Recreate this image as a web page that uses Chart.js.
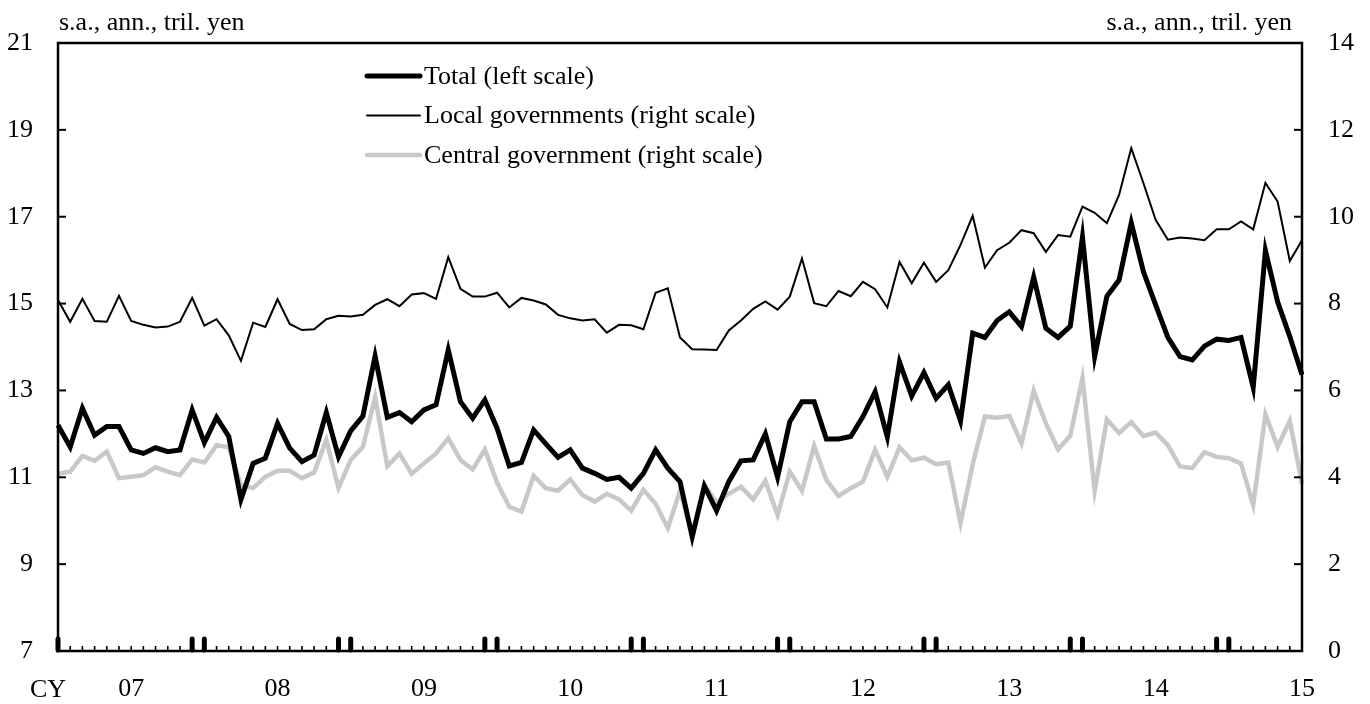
<!DOCTYPE html>
<html lang="en">
<head>
<meta charset="UTF-8">
<title>Public investment</title>
<script src="https://cdn.jsdelivr.net/npm/chart.js"></script>
<style>
  html, body { margin: 0; padding: 0; background: #ffffff; }
  #wrap { width: 1370px; height: 704px; }
</style>
</head>
<body>
<div id="wrap"><canvas id="chart" width="1370" height="704"></canvas></div>
<script>
// monthly, Jan 2007 .. Jul 2015
const startYear = 2007;
const monthCount = 103;
const yearLabels = ['07', '08', '09', '10', '11', '12', '13', '14', '15'];
const seriesNames = ['Total (left scale)', 'Local governments (right scale)', 'Central government (right scale)'];

// s.a., ann., tril. yen
const total = [
  12.20, 11.70, 12.59, 11.97, 12.17, 12.17, 11.63, 11.55, 11.68, 11.59, 11.63, 12.55,
  11.80, 12.38, 11.94, 10.49, 11.32, 11.44, 12.24, 11.67, 11.36, 11.51, 12.49, 11.47,
  12.07, 12.41, 13.79, 12.38, 12.49, 12.28, 12.55, 12.67, 13.93, 12.74, 12.36, 12.78,
  12.13, 11.26, 11.34, 12.09, 11.77, 11.46, 11.63, 11.21, 11.09, 10.95, 11.00, 10.75,
  11.09, 11.63, 11.21, 10.90, 9.63, 10.80, 10.23, 10.90, 11.38, 11.40, 12.00, 11.00,
  12.28, 12.74, 12.74, 11.88, 11.88, 11.94, 12.40, 12.97, 11.93, 13.65, 12.87, 13.41,
  12.82, 13.13, 12.30, 14.32, 14.22, 14.61, 14.81, 14.47, 15.61, 14.43, 14.22, 14.48,
  16.53, 13.78, 15.17, 15.54, 16.86, 15.73, 14.97, 14.22, 13.78, 13.70, 14.02, 14.18,
  14.15, 14.22, 13.07, 16.22, 15.04, 14.24, 13.36
];
const localGov = [
  8.08, 7.58, 8.11, 7.60, 7.58, 8.18, 7.60, 7.51, 7.45, 7.47, 7.58, 8.13,
  7.49, 7.64, 7.27, 6.68, 7.56, 7.46, 8.10, 7.53, 7.39, 7.41, 7.64, 7.72,
  7.70, 7.74, 7.97, 8.10, 7.94, 8.21, 8.24, 8.11, 9.07, 8.34, 8.16, 8.16,
  8.25, 7.91, 8.13, 8.07, 7.98, 7.74, 7.66, 7.61, 7.64, 7.33, 7.51, 7.50,
  7.41, 8.25, 8.35, 7.22, 6.95, 6.94, 6.93, 7.38, 7.61, 7.88, 8.05, 7.86,
  8.16, 9.04, 8.01, 7.94, 8.29, 8.17, 8.50, 8.33, 7.91, 8.96, 8.47, 8.94,
  8.50, 8.77, 9.35, 10.02, 8.83, 9.23, 9.40, 9.69, 9.62, 9.19, 9.58, 9.54,
  10.23, 10.09, 9.85, 10.50, 11.58, 10.77, 9.93, 9.47, 9.52, 9.50, 9.46, 9.71,
  9.71, 9.89, 9.71, 10.78, 10.35, 8.98, 9.46
];
const centralGov = [
  4.08, 4.13, 4.49, 4.38, 4.59, 3.98, 4.01, 4.05, 4.23, 4.13, 4.05, 4.41,
  4.34, 4.74, 4.69, 3.82, 3.75, 4.01, 4.15, 4.15, 3.98, 4.11, 4.86, 3.75,
  4.40, 4.70, 5.84, 4.26, 4.55, 4.08, 4.32, 4.55, 4.90, 4.40, 4.18, 4.64,
  3.88, 3.32, 3.21, 4.03, 3.75, 3.69, 3.95, 3.59, 3.44, 3.62, 3.49, 3.23,
  3.71, 3.39, 2.83, 3.69, 2.67, 3.82, 3.42, 3.62, 3.78, 3.49, 3.92, 3.13,
  4.13, 3.69, 4.72, 3.94, 3.57, 3.75, 3.90, 4.63, 4.01, 4.69, 4.39, 4.45,
  4.30, 4.34, 2.94, 4.30, 5.40, 5.37, 5.41, 4.78, 5.99, 5.24, 4.64, 4.96,
  6.29, 3.69, 5.33, 5.02, 5.27, 4.95, 5.03, 4.74, 4.25, 4.21, 4.58, 4.47,
  4.44, 4.32, 3.36, 5.45, 4.70, 5.30, 3.85
];

const months = [];
for (let i = 0; i < monthCount; i++) {
  const y = startYear + Math.floor(i / 12);
  const m = i % 12 + 1;
  months.push(y + '-' + String(m).padStart(2, '0'));
}

const FONT = "'Liberation Serif', 'Times New Roman', serif";
Chart.defaults.font.family = FONT;
Chart.defaults.color = '#000';

// frame, inside ticks, unit labels and legend
const decor = {
  id: 'decor',
  afterDatasetsDraw(chart) {
    const { ctx, chartArea: a, scales } = chart;
    ctx.save();
    ctx.strokeStyle = '#000';

    // y ticks pointing inwards
    ctx.lineWidth = 2;
    scales.y.ticks.forEach(t => {
      if (t.value <= scales.y.min || t.value >= scales.y.max) return;
      const py = scales.y.getPixelForValue(t.value);
      ctx.beginPath(); ctx.moveTo(a.left, py); ctx.lineTo(a.left + 8, py); ctx.stroke();
    });
    scales.y2.ticks.forEach(t => {
      if (t.value <= scales.y2.min || t.value >= scales.y2.max) return;
      const py = scales.y2.getPixelForValue(t.value);
      ctx.beginPath(); ctx.moveTo(a.right - 8, py); ctx.lineTo(a.right, py); ctx.stroke();
    });

    // monthly ticks, heavy ones at Dec / Jan
    months.forEach((lab, i) => {
      const px = scales.x.getPixelForValue(i);
      const m = +lab.slice(5);
      ctx.beginPath();
      if (m === 12 || m === 1) {
        ctx.lineWidth = 5; ctx.lineCap = 'round';
        ctx.moveTo(px, a.bottom - 1); ctx.lineTo(px, a.bottom - 12);
      } else {
        ctx.lineWidth = 1.6; ctx.lineCap = 'butt';
        ctx.moveTo(px, a.bottom); ctx.lineTo(px, a.bottom - 5);
      }
      ctx.stroke();
    });
    ctx.lineCap = 'butt';

    // frame
    ctx.lineWidth = 2.5;
    ctx.strokeRect(a.left, a.top, a.right - a.left, a.bottom - a.top);

    // texts
    ctx.fillStyle = '#000';
    ctx.font = '26px ' + FONT;
    ctx.textBaseline = 'alphabetic';
    ctx.textAlign = 'left';
    ctx.fillText('s.a., ann., tril. yen', a.left + 1, 30);
    ctx.textAlign = 'right';
    ctx.fillText('s.a., ann., tril. yen', a.right - 10, 30);
    ctx.textAlign = 'center';
    ctx.fillText('CY', 48, 697);

    // legend
    const rows = [76, 115.5, 155];
    chart.data.datasets.forEach((ds, k) => {
      const y = rows[k];
      ctx.strokeStyle = ds.borderColor;
      ctx.lineWidth = ds.borderWidth;
      ctx.lineCap = 'round';
      ctx.beginPath(); ctx.moveTo(367, y); ctx.lineTo(420, y); ctx.stroke();
      ctx.textAlign = 'left';
      ctx.textBaseline = 'middle';
      ctx.fillText(ds.label, 424, y + 1);
    });
    ctx.restore();
  }
};

new Chart(document.getElementById('chart'), {
  type: 'line',
  data: {
    labels: months,
    datasets: [
      { label: seriesNames[0], data: total, yAxisID: 'y', borderColor: '#000000', borderWidth: 5 },
      { label: seriesNames[1], data: localGov, yAxisID: 'y2', borderColor: '#000000', borderWidth: 2 },
      { label: seriesNames[2], data: centralGov, yAxisID: 'y2', borderColor: '#c8c8c8', borderWidth: 4.5 }
    ]
  },
  options: {
    responsive: false,
    animation: false,
    layout: { padding: { top: 43, left: 0, right: 0, bottom: 0 } },
    elements: {
      point: { radius: 0, hoverRadius: 0 },
      line: { tension: 0, borderJoinStyle: 'miter', fill: false }
    },
    plugins: { legend: { display: false }, tooltip: { enabled: false } },
    scales: {
      x: {
        type: 'category',
        offset: false,
        grid: { display: false, drawTicks: false },
        border: { display: false },
        ticks: {
          autoSkip: false, maxRotation: 0, minRotation: 0, padding: 23,
          font: { size: 26 },
          callback: (v, i) => (i % 12 === 6 ? yearLabels[(i - 6) / 12] : '')
        },
        afterFit: s => { s.height = 53; }
      },
      y: {
        position: 'left', min: 7, max: 21,
        grid: { display: false, drawTicks: false },
        border: { display: false },
        ticks: { stepSize: 2, padding: 25, font: { size: 26 } },
        afterFit: s => { s.width = 58; }
      },
      y2: {
        position: 'right', min: 0, max: 14,
        grid: { display: false, drawTicks: false },
        border: { display: false },
        ticks: { stepSize: 2, padding: 26, font: { size: 26 } },
        afterFit: s => { s.width = 68; }
      }
    }
  },
  plugins: [decor]
});
</script>
</body>
</html>
